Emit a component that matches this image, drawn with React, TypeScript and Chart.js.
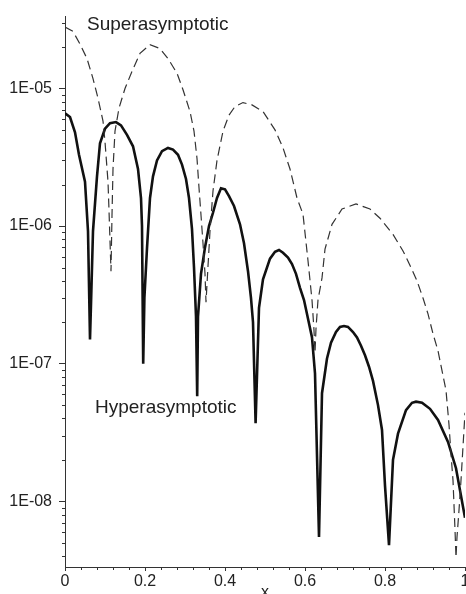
import React, { useEffect, useRef } from 'react';
import { Chart, registerables } from 'chart.js';

Chart.register(...registerables);

// [x, value] pairs
const superPoints: [number, number][] = [
  [0, 2.8e-5], [0.02, 2.6e-5], [0.0375, 2.1e-5], [0.055, 1.65e-5], [0.07, 1.18e-5],
  [0.0825, 8.5e-6], [0.095, 5.8e-6], [0.1, 4.1e-6], [0.1075, 2.1e-6], [0.11, 1.3e-6],
  [0.1125, 7.8e-7], [0.115, 4.7e-7], [0.1175, 1.2e-6], [0.12, 2.6e-6], [0.125, 4.9e-6],
  [0.135, 7.2e-6], [0.15, 1.0e-5], [0.1675, 1.33e-5], [0.1875, 1.8e-5], [0.2125, 2.08e-5],
  [0.2375, 1.95e-5], [0.2575, 1.65e-5], [0.28, 1.29e-5], [0.295, 9.8e-6], [0.3125, 6.8e-6],
  [0.3225, 4.9e-6], [0.33, 3.1e-6], [0.335, 1.9e-6], [0.34, 1.2e-6], [0.345, 7.5e-7],
  [0.35, 4.5e-7], [0.3525, 2.8e-7], [0.3575, 5.1e-7], [0.3625, 9.2e-7], [0.37, 1.8e-6],
  [0.38, 3.0e-6], [0.395, 4.9e-6], [0.41, 6.4e-6], [0.425, 7.4e-6], [0.445, 7.9e-6],
  [0.4675, 7.6e-6], [0.495, 6.8e-6], [0.525, 5.0e-6], [0.545, 3.7e-6], [0.5625, 2.6e-6],
  [0.58, 1.6e-6], [0.595, 1.22e-6], [0.6075, 5.6e-7], [0.6175, 2.9e-7], [0.6225, 1.75e-7],
  [0.625, 1.2e-7], [0.6275, 1.8e-7], [0.6325, 2.9e-7], [0.6425, 4.2e-7], [0.65, 6.8e-7],
  [0.6675, 1.03e-6], [0.6925, 1.33e-6], [0.7275, 1.45e-6], [0.7625, 1.33e-6], [0.7875, 1.14e-6],
  [0.82, 8.7e-7], [0.845, 6.6e-7], [0.865, 5.0e-7], [0.88, 4.0e-7], [0.895, 3.0e-7],
  [0.9075, 2.3e-7], [0.92, 1.65e-7], [0.9325, 1.24e-7], [0.9425, 8.9e-8], [0.9525, 6.4e-8],
  [0.96, 3.6e-8], [0.965, 2.2e-8], [0.97, 1.42e-8], [0.975, 6.2e-9], [0.9775, 3.9e-9],
  [0.98, 5.5e-9], [0.985, 8.6e-9], [0.99, 1.42e-8], [0.995, 2.5e-8], [1.0, 4.4e-8],
];

const hyperPoints: [number, number][] = [
  [0, 6.6e-6], [0.0125, 6.2e-6], [0.025, 4.8e-6], [0.035, 3.3e-6], [0.05, 2.1e-6],
  [0.0575, 9.2e-7], [0.0625, 1.5e-7], [0.065, 2.7e-7], [0.07, 9.2e-7], [0.08, 2.3e-6],
  [0.0875, 4.0e-6], [0.1, 5.1e-6], [0.1125, 5.6e-6], [0.1275, 5.7e-6], [0.14, 5.4e-6],
  [0.155, 4.6e-6], [0.17, 3.8e-6], [0.1825, 2.6e-6], [0.19, 1.6e-6], [0.1925, 1.0e-6],
  [0.1955, 1.0e-7], [0.1985, 3.0e-7], [0.205, 6.9e-7], [0.2125, 1.6e-6], [0.22, 2.3e-6],
  [0.23, 3.0e-6], [0.2425, 3.5e-6], [0.2575, 3.7e-6], [0.27, 3.6e-6], [0.2825, 3.3e-6],
  [0.2925, 2.8e-6], [0.3025, 2.2e-6], [0.31, 1.6e-6], [0.3175, 9.5e-7], [0.3225, 5.0e-7],
  [0.3275, 2.2e-7], [0.3305, 5.8e-8], [0.3325, 2.2e-7], [0.34, 4.5e-7], [0.35, 7.0e-7],
  [0.36, 1.0e-6], [0.37, 1.25e-6], [0.38, 1.6e-6], [0.39, 1.88e-6], [0.4, 1.85e-6],
  [0.41, 1.65e-6], [0.4225, 1.4e-6], [0.4375, 1.03e-6], [0.4475, 7.5e-7], [0.4575, 4.7e-7],
  [0.465, 3.0e-7], [0.47, 2.0e-7], [0.4765, 3.7e-8], [0.485, 2.55e-7], [0.495, 4.1e-7],
  [0.5125, 5.8e-7], [0.525, 6.5e-7], [0.535, 6.7e-7], [0.545, 6.4e-7], [0.5575, 5.9e-7],
  [0.5675, 5.3e-7], [0.5775, 4.5e-7], [0.5875, 3.56e-7], [0.5975, 2.9e-7], [0.605, 2.3e-7],
  [0.6175, 1.55e-7], [0.625, 8.5e-8], [0.635, 5.5e-9], [0.6425, 6.1e-8], [0.655, 1.09e-7],
  [0.665, 1.42e-7], [0.6775, 1.7e-7], [0.6875, 1.85e-7], [0.6975, 1.88e-7], [0.7075, 1.85e-7],
  [0.72, 1.7e-7], [0.73, 1.55e-7], [0.74, 1.35e-7], [0.75, 1.15e-7], [0.76, 9.5e-8],
  [0.77, 7.5e-8], [0.7825, 5.0e-8], [0.7925, 3.3e-8], [0.8, 1.3e-8], [0.81, 4.8e-9],
  [0.82, 2.0e-8], [0.8325, 3.1e-8], [0.8525, 4.6e-8], [0.8675, 5.2e-8], [0.8775, 5.3e-8],
  [0.8925, 5.2e-8], [0.9125, 4.7e-8], [0.9325, 3.9e-8], [0.9575, 2.7e-8], [0.9775, 1.74e-8],
  [1.0, 7.6e-9],
];

const xTickValues = [0, 0.2, 0.4, 0.6, 0.8, 1];
const xTickLabels = ['0', '0.2', '0.4', '0.6', '0.8', '1'];
const xMinorTicks = [0.04, 0.08, 0.12, 0.16, 0.24, 0.28, 0.32, 0.36, 0.44, 0.48, 0.52, 0.56, 0.64, 0.68, 0.72, 0.76, 0.84, 0.88, 0.92, 0.96];

const yTickValues = [1e-8, 1e-7, 1e-6, 1e-5];
const yTickLabels = ['1E-08', '1E-07', '1E-06', '1E-05'];
const yMinorTicks = [
  4e-9, 5e-9, 6e-9, 7e-9, 8e-9, 9e-9,
  2e-8, 3e-8, 4e-8, 5e-8, 6e-8, 7e-8, 8e-8, 9e-8,
  2e-7, 3e-7, 4e-7, 5e-7, 6e-7, 7e-7, 8e-7, 9e-7,
  2e-6, 3e-6, 4e-6, 5e-6, 6e-6, 7e-6, 8e-6, 9e-6,
  2e-5, 3e-5,
];
const yMin = 3.33e-9;
const yMax = 3.33e-5;

const noteTexts = ['Superasymptotic', 'Hyperasymptotic'];
const noteX = [0.055, 0.075];
const noteY = [2.68e-5, 4.35e-8];

const FONT = '"Liberation Sans", Arial, Helvetica, sans-serif';
const INK = '#222';

const overlayPlugin = {
  id: 'overlay',
  afterDraw(chart: any) {
    const { ctx } = chart;
    const xs = chart.scales.x;
    const ys = chart.scales.y;
    ctx.save();
    ctx.strokeStyle = '#333';
    ctx.lineWidth = 1;
    ctx.beginPath();
    xMinorTicks.forEach((v) => {
      const px = Math.round(xs.getPixelForValue(v)) + 0.5;
      ctx.moveTo(px, xs.top);
      ctx.lineTo(px, xs.top + 3);
    });
    yMinorTicks.forEach((v) => {
      const py = Math.round(ys.getPixelForValue(v)) + 0.5;
      ctx.moveTo(ys.right, py);
      ctx.lineTo(ys.right - 3, py);
    });
    ctx.stroke();
    ctx.fillStyle = INK;
    ctx.font = `19px ${FONT}`;
    ctx.textAlign = 'left';
    ctx.textBaseline = 'alphabetic';
    noteTexts.forEach((t, i) => {
      ctx.fillText(t, xs.getPixelForValue(noteX[i]), ys.getPixelForValue(noteY[i]));
    });
    ctx.restore();
  },
};

function labelFor(values: number[], labels: string[], v: number) {
  for (let i = 0; i < values.length; i++) {
    if (Math.abs(v - values[i]) <= Math.abs(values[i]) * 1e-6 + 1e-12) return labels[i];
  }
  return '';
}

export default function App() {
  const ref = useRef<HTMLCanvasElement>(null);
  useEffect(() => {
    if (!ref.current) return;
    const chart = new Chart(ref.current, {
      type: 'line',
      data: {
        datasets: [
          {
            label: 'Superasymptotic',
            data: superPoints.map(([x, y]) => ({ x, y })),
            borderColor: '#333',
            borderWidth: 1.2,
            borderDash: [9, 5],
            pointRadius: 0,
            tension: 0,
            fill: false,
          },
          {
            label: 'Hyperasymptotic',
            data: hyperPoints.map(([x, y]) => ({ x, y })),
            borderColor: '#111',
            borderWidth: 2.6,
            pointRadius: 0,
            tension: 0,
            fill: false,
          },
        ],
      },
      options: {
        responsive: false,
        animation: false,
        devicePixelRatio: 1,
        layout: { padding: { top: 15, right: 25, left: 0, bottom: 0 } },
        plugins: { legend: { display: false }, tooltip: { enabled: false } },
        scales: {
          x: {
            type: 'linear',
            min: 0,
            max: 1,
            grid: { display: true, drawOnChartArea: false, drawTicks: true, tickLength: 4, color: '#333' },
            border: { display: true, color: '#333', width: 1 },
            ticks: {
              autoSkip: false,
              maxRotation: 0,
              padding: 1,
              color: INK,
              font: { family: FONT, size: 16 },
              callback: (v: any) => labelFor(xTickValues, xTickLabels, Number(v)),
            },
            afterBuildTicks: (s: any) => {
              s.ticks = xTickValues.map((v) => ({ value: v }));
            },
            afterFit: (s: any) => {
              s.height = 35;
            },
            title: { display: true, text: 'x', color: INK, font: { family: FONT, size: 16 }, padding: 0 },
          },
          y: {
            type: 'logarithmic',
            min: yMin,
            max: yMax,
            grid: { display: true, drawOnChartArea: false, drawTicks: true, tickLength: 6, color: '#333' },
            border: { display: true, color: '#333', width: 1 },
            ticks: {
              autoSkip: false,
              padding: 7,
              color: INK,
              font: { family: FONT, size: 16 },
              callback: (v: any) => labelFor(yTickValues, yTickLabels, Number(v)),
            },
            afterBuildTicks: (s: any) => {
              s.ticks = yTickValues.map((v) => ({ value: v }));
            },
            afterFit: (s: any) => {
              s.width = 65;
            },
          },
        },
      },
      plugins: [overlayPlugin],
    } as any);
    return () => chart.destroy();
  }, []);

  return (
    <div style={{ position: 'fixed', left: 0, top: 0, width: 466, height: 594, overflow: 'hidden', background: '#fff' }}>
      <canvas ref={ref} width={490} height={602} style={{ display: 'block', width: 490, height: 602 }} />
    </div>
  );
}
